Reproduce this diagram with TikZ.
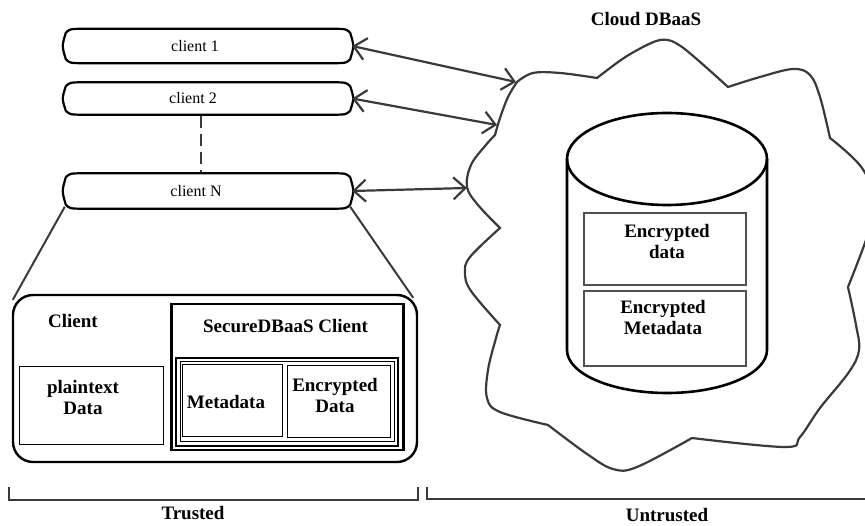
\documentclass[tikz,border=0pt]{standalone}
\usepackage{fontspec}
\setmainfont{Liberation Serif}
\usetikzlibrary{arrows.meta,calc}

\definecolor{ink}{HTML}{3A3A3A}
\definecolor{boxgray}{HTML}{505050}

\begin{document}
\begin{tikzpicture}[x=1pt,y=-1pt,
  pill/.style={minimum width=288pt,minimum height=34pt,inner sep=0pt},
  ptext/.style={font=\fontsize{16}{18}\selectfont,inner sep=0pt},
  btext/.style={font=\bfseries\fontsize{19}{21}\selectfont,align=center,inner sep=0pt},
  thinbox/.style={draw=black,line width=1pt,inner sep=0pt},
  encbox/.style={draw=boxgray,line width=2.8pt,inner sep=0pt,minimum width=162pt},
  link/.style={draw=ink,line width=2.2pt,
    {Straight Barb[length=12pt,width=22pt]}-{Straight Barb[length=12pt,width=22pt]}},
  fan/.style={draw=ink,line width=2pt},
  bracket/.style={draw=ink,line width=2.6pt},
  cloudline/.style={draw=ink,line width=2.2pt},
]
\useasboundingbox (0,0) rectangle (865,526);

% ---------- clients ----------
\node[pill,label={[ptext,xshift=-13pt]center:client 1}] (c1) at (208,46) {};
\node[pill,minimum height=32pt,label={[ptext,xshift=-15pt]center:client 2}] (c2) at (208,98.5) {};
\node[pill,minimum height=35pt,label={[ptext,xshift=-12pt]center:client N}] (cN) at (208,191) {};

\foreach \n in {c1,c2,cN}{
  \draw[line width=2.2pt]
    ($(\n.north west)+(2,4)$) .. controls ($(\n.north west)+(6,0)$) .. ($(\n.north west)+(22,0)$)
    -- ($(\n.north east)+(-22,0)$) .. controls ($(\n.north east)+(-6,0)$) .. ($(\n.north east)+(-2,4)$)
    .. controls ($(\n.east)+(2,0)$) .. ($(\n.south east)+(-2,-4)$)
    .. controls ($(\n.south east)+(-6,0)$) .. ($(\n.south east)+(-22,0)$)
    -- ($(\n.south west)+(22,0)$) .. controls ($(\n.south west)+(6,0)$) .. ($(\n.south west)+(2,-4)$)
    .. controls ($(\n.west)+(-2,0)$) .. cycle;
}

\draw[draw=ink,line width=2.2pt,dash pattern=on 12pt off 6pt]
  ($(c2.south)+(-7,1)$) -- ($(cN.north)+(-7,-1)$);

% ---------- expanded client ----------
\node[draw=black,line width=2.4pt,rounded corners=20pt,
      minimum width=404pt,minimum height=167pt] (cbox) at (215,378.5) {};
\draw[fan] ($(cN.south west)+(1,-2)$) -- ($(cbox.north west)+(1,6)$);
\draw[fan] ($(cN.south east)+(-2,-2)$) -- ($(cbox.north east)+(-5,4)$);

\node[btext] (clab) at (73,321) {Client};
\node[thinbox,minimum width=144pt,minimum height=78pt] (pbox) at (91,406) {};
\node[btext] (ptxt) at (83,397.5) {plaintext\\Data};

\node[draw=black,line width=2.8pt,minimum width=232pt,minimum height=146pt,inner sep=0pt]
  (sbox) at (287.5,377) {};
\node[btext] (slab) at (285.5,326) {SecureDBaaS Client};
\node[draw=black,line width=2.6pt,minimum width=222pt,minimum height=88pt,inner sep=0pt]
  (inner) at (287,402) {};
\node[thinbox,minimum width=214pt,minimum height=80pt] (innerb) at (287,402) {};

\node[thinbox,minimum width=100pt,minimum height=72pt] (mbox) at (232,401) {};
\node[btext] (mtxt) at (226,402) {Metadata};
\node[thinbox,minimum width=103pt,minimum height=72pt] (ebox) at (338.5,402) {};
\node[btext] (etxt) at (335,395.5) {Encrypted\\Data};

% ---------- cloud ----------
\coordinate (k1) at (516,82);
\coordinate (k2) at (497,125);
\coordinate (k3) at (467,188);

\begin{scope}
\clip (0,0) rectangle (865,526);
\draw[cloudline]
  plot[smooth,tension=0.6] coordinates {(517,82) (533,73) (560,73) (597,78)}
  -- plot[smooth,tension=0.5] coordinates {(597,78) (627,56) (660,40) (682,47) (728,87)}
  -- plot[smooth,tension=0.6] coordinates {(728,87) (760,77) (793,69) (810,75) (820,97) (830,138)}
  -- plot[smooth,tension=0.6] coordinates {(830,138) (862,168) (876,205) (866,240) (848,287)}
  -- plot[smooth,tension=0.6] coordinates {(848,287) (856,325) (859,350) (849,372) (820,408) (800,437) (785,447) (692,438)}
  -- plot[smooth,tension=0.6] coordinates {(692,438) (637,467) (613,469) (587,454) (548,425)}
  -- plot[smooth,tension=0.6] coordinates {(548,425) (500,412) (487,398) (488,370) (496,338) (500,325)}
  -- plot[smooth,tension=0.6] coordinates {(500,325) (471,291) (465,273) (470,257) (500,228)}
  -- plot[smooth,tension=0.6] coordinates {(500,228) (478,205) (467,187) (471,165) (485,146) (495,135)}
  -- plot[smooth,tension=0.6] coordinates {(495,135) (500,118) (508,97) (517,82)}
  -- cycle;
\end{scope}

\node[btext] (cloudlab) at (646,19) {Cloud DBaaS};

% database cylinder
\draw[line width=2.6pt] (567,159) -- (567,350)
  arc[start angle=180,end angle=360,x radius=100pt,y radius=43pt] -- (767,159);
\draw[line width=2.6pt] (667,159) ellipse [x radius=100pt,y radius=46pt];

\node[encbox,minimum height=72pt] (ed) at (665,249) {};
\node[btext] (edt) at (667,241.5) {Encrypted\\data};
\node[encbox,minimum height=75pt] (em) at (665,328.5) {};
\node[btext] (emt) at (663,317.5) {Encrypted\\Metadata};

% ---------- connections ----------
\draw[link] (c1.east) -- (k1);
\draw[link] (c2.east) -- (k2);
\draw[link] (cN.east) -- (k3);

% ---------- trust zones ----------
\draw[bracket] (9,487) -- (9,500) -- (418,500) -- (418,487);
\node[btext] (trusted) at (193,513) {Trusted};
\draw[bracket] (427,487) -- (427,499) -- (866,499);
\node[btext] (untrusted) at (667,515.5) {Untrusted};
\end{tikzpicture}
\end{document}
